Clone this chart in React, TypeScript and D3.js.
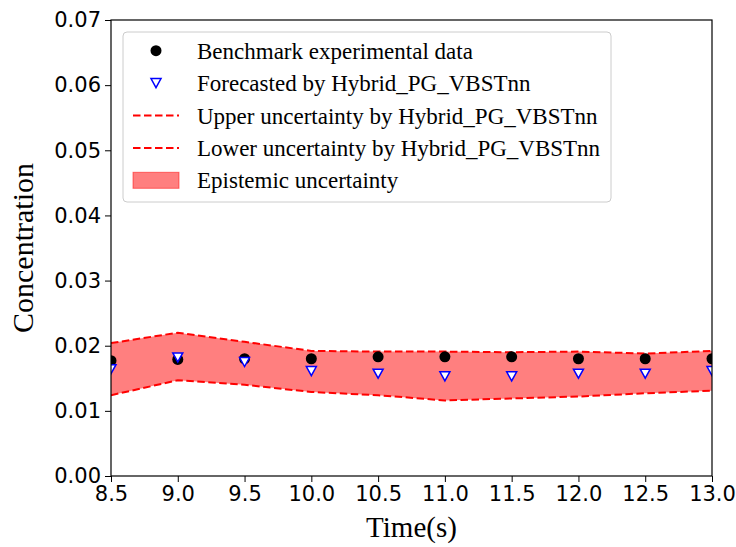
import React, { useEffect, useRef } from "react";
import * as d3 from "d3";

// data
const times = [8.5, 9.0, 9.5, 10.0, 10.5, 11.0, 11.5, 12.0, 12.5, 13.0];
const benchmark = [0.0177, 0.0179, 0.018, 0.018, 0.0183, 0.0183, 0.0183, 0.018, 0.018, 0.018];
const forecast = [0.0164, 0.0182, 0.0175, 0.0161, 0.0157, 0.0153, 0.0153, 0.0157, 0.0157, 0.0161];
const upper = [0.0204, 0.022, 0.0206, 0.0192, 0.0191, 0.0191, 0.019, 0.0191, 0.0188, 0.0192];
const lower = [0.0124, 0.0147, 0.014, 0.0129, 0.0124, 0.0116, 0.0119, 0.0122, 0.0127, 0.0131];
const xTicks = [8.5, 9.0, 9.5, 10.0, 10.5, 11.0, 11.5, 12.0, 12.5, 13.0];
const yTicks = [0, 0.01, 0.02, 0.03, 0.04, 0.05, 0.06, 0.07];
const legendLabels = [
  "Benchmark experimental data",
  "Forecasted by Hybrid_PG_VBSTnn",
  "Upper uncertainty by Hybrid_PG_VBSTnn",
  "Lower uncertainty by Hybrid_PG_VBSTnn",
  "Epistemic uncertainty",
];

const W = 736;
const H = 547;
const margin = { top: 20, right: 24, bottom: 71, left: 111 };
const serif = "'Liberation Serif', 'Times New Roman', serif";
const sans = "'DejaVu Sans', sans-serif";

const App = () => {
  const svgRef = useRef<SVGSVGElement>(null);

  useEffect(() => {
    const svg = d3.select(svgRef.current);
    svg.selectAll("*").remove();

    const width = W - margin.left - margin.right;
    const height = H - margin.top - margin.bottom;

    const x = d3.scaleLinear().domain([8.5, 13.0]).range([0, width]);
    const y = d3.scaleLinear().domain([0, 0.07]).range([height, 0]);

    svg
      .append("defs")
      .append("clipPath")
      .attr("id", "plot-clip")
      .append("rect")
      .attr("width", width)
      .attr("height", height);

    const g = svg.append("g").attr("transform", `translate(${margin.left},${margin.top})`);

    const rows = times.map((t, i) => ({
      t,
      b: benchmark[i],
      f: forecast[i],
      u: upper[i],
      l: lower[i],
    }));

    const plot = g.append("g").attr("clip-path", "url(#plot-clip)");

    // uncertainty band
    const area = d3
      .area<any>()
      .x((d) => x(d.t))
      .y0((d) => y(d.l))
      .y1((d) => y(d.u));
    plot.append("path").datum(rows).attr("d", area).attr("fill", "#ff0000").attr("fill-opacity", 0.5);

    const line = (key: string) =>
      d3
        .line<any>()
        .x((d) => x(d.t))
        .y((d) => y(d[key]));

    ["u", "l"].forEach((k) => {
      plot
        .append("path")
        .datum(rows)
        .attr("d", line(k))
        .attr("fill", "none")
        .attr("stroke", "#ff0000")
        .attr("stroke-width", 2)
        .attr("stroke-dasharray", "7.5,3.5");
    });

    // benchmark dots
    plot
      .selectAll(".dot")
      .data(rows)
      .enter()
      .append("circle")
      .attr("cx", (d) => x(d.t))
      .attr("cy", (d) => y(d.b))
      .attr("r", 5.5)
      .attr("fill", "black");

    // forecast triangles (pointing down)
    const tri = "M-5,-4.5L5,-4.5L0,4.5Z";
    plot
      .selectAll(".tri")
      .data(rows)
      .enter()
      .append("path")
      .attr("d", tri)
      .attr("transform", (d) => `translate(${x(d.t)},${y(d.f)})`)
      .attr("fill", "white")
      .attr("stroke", "blue")
      .attr("stroke-width", 1.5);

    // axes
    const xAxis = g
      .append("g")
      .attr("transform", `translate(0,${height})`)
      .call(
        d3
          .axisBottom(x)
          .tickValues(xTicks)
          .tickFormat(d3.format(".1f"))
          .tickSizeInner(6)
          .tickSizeOuter(0)
          .tickPadding(4)
      );
    const yAxis = g.append("g").call(
      d3
        .axisLeft(y)
        .tickValues(yTicks)
        .tickFormat(d3.format(".2f"))
        .tickSizeInner(6)
        .tickSizeOuter(0)
        .tickPadding(4)
    );
    [xAxis, yAxis].forEach((a) => {
      a.selectAll("text").attr("font-family", sans).attr("font-size", 21).attr("fill", "black");
      a.selectAll("line").attr("stroke", "black");
      a.select(".domain").remove();
    });

    // frame
    g.append("rect")
      .attr("width", width)
      .attr("height", height)
      .attr("fill", "none")
      .attr("stroke", "black")
      .attr("stroke-width", 1.2);

    // axis titles
    svg
      .append("text")
      .attr("x", margin.left + width / 2)
      .attr("y", 537)
      .attr("text-anchor", "middle")
      .attr("font-family", serif)
      .attr("font-size", 29)
      .text("Time(s)");
    svg
      .append("text")
      .attr("transform", `translate(33,${margin.top + height / 2}) rotate(-90)`)
      .attr("text-anchor", "middle")
      .attr("font-family", serif)
      .attr("font-size", 30)
      .text("Concentration");

    // legend
    const lg = svg.append("g").attr("transform", "translate(123,32)");
    lg.append("rect")
      .attr("width", 488)
      .attr("height", 170)
      .attr("rx", 4)
      .attr("fill", "white")
      .attr("fill-opacity", 0.8)
      .attr("stroke", "#cccccc");
    const rowH = 32.4;
    legendLabels.forEach((lab, i) => {
      const cy = 18.7 + i * rowH;
      const item = lg.append("g").attr("transform", `translate(0,${cy})`);
      if (i === 0) {
        item.append("circle").attr("cx", 33).attr("cy", 0).attr("r", 5.5).attr("fill", "black");
      } else if (i === 1) {
        item
          .append("path")
          .attr("d", tri)
          .attr("transform", "translate(33,0)")
          .attr("fill", "white")
          .attr("stroke", "blue")
          .attr("stroke-width", 1.5);
      } else if (i === 4) {
        item
          .append("rect")
          .attr("x", 10)
          .attr("y", -8)
          .attr("width", 46)
          .attr("height", 16)
          .attr("fill", "#ff0000")
          .attr("fill-opacity", 0.5)
          .attr("stroke", "#ff0000")
          .attr("stroke-opacity", 0.5);
      } else {
        item
          .append("line")
          .attr("x1", 10)
          .attr("x2", 56)
          .attr("stroke", "#ff0000")
          .attr("stroke-width", 2)
          .attr("stroke-dasharray", "7.5,3.5");
      }
      item
        .append("text")
        .attr("x", 74)
        .attr("y", 0)
        .attr("dy", "0.35em")
        .attr("font-family", serif)
        .attr("font-size", 23)
        .text(lab);
    });
  }, []);

  return (
    <svg
      ref={svgRef}
      width={W}
      height={H}
      style={{ position: "absolute", left: 0, top: 0, background: "white" }}
    />
  );
};

export default App;
